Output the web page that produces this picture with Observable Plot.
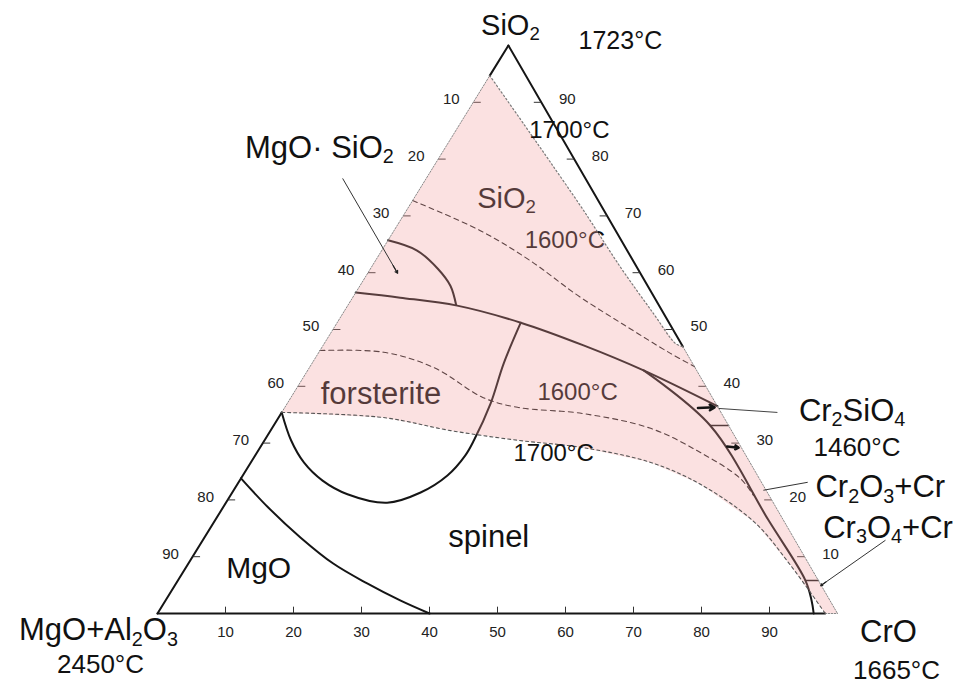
<!DOCTYPE html>
<html>
<head>
<meta charset="utf-8">
<script src="https://cdn.jsdelivr.net/npm/d3@7"></script>
<script src="https://cdn.jsdelivr.net/npm/@observablehq/plot@0.6"></script>
<style>
  html, body { margin: 0; padding: 0; background: #fff; }
  #chart { width: 971px; height: 684px; }
</style>
</head>
<body>
<div id="chart"></div>
<script>
// Phase diagram MgO+Al2O3 – CrO – SiO2.
// Every composition is [CrO wt%, SiO2 wt%]; MgO+Al2O3 makes up the balance.

// 1700 °C liquidus, silica side and the lower (spinel side) branch
const liquidus1700Upper = [[0, 94.7], [9.7, 85.9], [16.4, 79.8], [26.0, 71.0], [36.7, 60.9], [45.7, 52.8], [51.7, 47.5], [53, 47]];
const liquidus1700Lower = [[0, 35.4], [15.4, 34.5], [26.5, 32.2], [37.2, 30.5], [47.5, 29.2], [58.8, 26.6], [68.2, 22.7], [79.6, 16.0], [88.7, 8.5], [98.2, 0]];

// 1600 °C isotherms
const isotherm1600Upper = [[0, 72.7], [12.7, 67.4], [22.8, 62.1], [32.9, 56.0], [42.6, 50.7], [51.8, 45.8], [56.5, 43.5]];
const isotherm1600Lower = [[0, 46.3], [9.5, 46.0], [18.3, 43.3], [28.3, 38.0], [34.2, 36.3], [44.4, 35.2], [55.7, 32.6], [65.3, 28.3], [73.4, 23.8], [76.9, 20.8]];

// field boundaries
const silicaBoundary = [[0, 56.5], [7.0, 55.6], [16.1, 54.2], [27.0, 51.2], [38.3, 47.2], [49.4, 42.8], [63.5, 36.5]];
const enstatiteArc = [[0, 65.7], [5.2, 63.9], [9.9, 60.7], [13.3, 57.7], [15.9, 54.3]];
const forsteriteSpinel = [[27.0, 51.2], [28.2, 44.0], [29.9, 37.0], [30.8, 30.5], [30.9, 27.8], [30.1, 24.3], [27.7, 21.3], [23.7, 19.5], [17.1, 21.0], [12.2, 23.4], [7.8, 26.6], [3.9, 30.5], [0, 35.4]];
const chromiteBoundary = [[49.4, 42.8], [64.2, 33.1], [81.4, 16.4], [92.3, 5.8], [95.0, 2.3], [96.5, 0]];
const periclaseBoundary = [[0, 23.8], [6.6, 18.7], [14.1, 13.4], [21.3, 8.8], [28.1, 5.3], [34.5, 2.3], [40, 0]];

// short tie marks between the chromium phases and the CrO–SiO2 side
const tieMarks = [[[64.2, 33.1], [66.9, 33.1]], [[92.3, 5.8], [94.2, 5.8]]];

// side scales (wt%)
const scaleValues = [10, 20, 30, 40, 50, 60, 70, 80, 90];

// vertex names and melting points
const vertexNames = ["MgO+Al₂O₃", "CrO", "SiO₂"];
const vertexMelting = ["2450°C", "1665°C", "1723°C"];

// ---- layout ----
const FONT = '"Liberation Sans", Arial, Helvetica, sans-serif';
const SKEW = 0.516;                         // apex position along the base
const X = ([c, s]) => c + SKEW * s;
const Y = ([c, s]) => s;
const pt = (p) => ({x: X(p), y: Y(p)});
const segs = (lines) => lines.flatMap((pts, i) => pts.map(p => ({id: i, ...pt(p)})));
const vertices = [[0, 0], [100, 0], [0, 100]];

// solid frame outside the liquid region, hairline inside it
const frameSolid = [[[0, 0], [98.2, 0]], [[0, 0], [0, 35.4]], [[0, 94.7], [0, 100]], [[0, 100], [53, 47]]];
const frameFaint = [[[0, 35.4], [0, 94.7]], [[53, 47], [100, 0]], [[98.2, 0], [100, 0]]];

// region liquid at 1700 °C
const liquidRegion = [[0, 35.4], ...liquidus1700Upper, [100, 0], ...liquidus1700Lower.slice().reverse()];

// ticks along each side
const ticks = [
  ...scaleValues.map(m => ({a: [0, 100 - m], b: [1.1, 100 - m], side: "left", v: m})),
  ...scaleValues.map(v => ({a: [100 - v, v], b: [98.9 - v, v], side: "right", v})),
  ...scaleValues.map(v => ({a: [v, 0], b: [v - SKEW * 1.2, 1.2], side: "base", v}))
];

// labels placed at compositions
const shadedLabels = [
  {text: "SiO₂", at: [13.6, 73.1], size: 29},
  {text: "1600°C", at: [26.0, 65.7], size: 24},
  {text: "forsterite", at: [12.9, 38.7], size: 31},
  {text: "1600°C", at: [41.7, 38.9], size: 24}
];
const plainLabels = [
  {text: "1700°C", at: [16.7, 85.0], size: 24},
  {text: "1700°C", at: [43.7, 28.2], size: 24},
  {text: "spinel", at: [41.8, 13.4], size: 31},
  {text: "MgO", at: [10.8, 7.9], size: 30},
  {text: "MgO· SiO₂", at: [-18.5, 82.0], size: 31}
];
const sideLabels = [
  {text: "Cr₂SiO₄", at: [75.9, 35.7], size: 31},
  {text: "1460°C", at: [81.4, 29.2], size: 26},
  {text: "Cr₂O₃+Cr", at: [85.3, 22.2], size: 31},
  {text: "Cr₃O₄+Cr", at: [90.1, 15.1], size: 31}
];

// leader lines from labels to the phases
const leaders = [
  {from: [-12.3, 76.6], to: [4.4, 59.9], dash: "7,3,1.5,3", head: true},
  {from: [72.9, 35.4], to: [63.9, 36.1], dash: null, head: false},
  {from: [83.7, 23.1], to: [77.9, 21.7], dash: "4,3", head: false},
  {from: [100.4, 12.9], to: [95.0, 4.9], dash: "2,2", head: true}
];
// small arrows on the CrO–SiO2 side
const sideArrows = [
  {from: [60.8, 36.2], to: [63.2, 36.3]},
  {from: [68.6, 29.4], to: [70.4, 29.2]}
];

// pixel offsets of the vertex captions: [name dx, dy, size], [melting dx, dy, size]
const vertexCaption = [
  [[-59, 17, 31], [-57, 51, 26]],
  [[51, 19, 31], [59, 57, 26]],
  [[2, -20, 29], [112, -5, 25]]
];

const linkOpts = (extra) => ({
  x1: d => X(d.from ?? d.a), y1: d => Y(d.from ?? d.a),
  x2: d => X(d.to ?? d.b), y2: d => Y(d.to ?? d.b), ...extra
});
const textAt = (extra) => ({x: d => X(d.at), y: d => Y(d.at), text: "text", fontSize: "size", ...extra});
const tickLabel = (side, dx, dy) => Plot.text(ticks.filter(t => t.side === side), {
  x: d => X(d.a), y: d => Y(d.a), text: d => String(d.v), dx, dy, fontSize: 15, fill: "#222"
});
const vertexMarks = vertices.flatMap((v, i) => [vertexNames[i], vertexMelting[i]].map((label, k) => {
  const [dx, dy, size] = vertexCaption[i][k];
  return Plot.text([v], {x: d => X(d), y: d => Y(d), text: () => label, dx, dy, fontSize: size, fill: "#111"});
}));

const chart = Plot.plot({
  width: 971,
  height: 684,
  marginLeft: 157, marginRight: 134, marginTop: 45, marginBottom: 71,
  x: {domain: [0, 100], axis: null},
  y: {domain: [0, 100], axis: null},
  style: {fontFamily: FONT, background: "#fff", color: "#111", overflow: "visible"},
  marks: [
    Plot.line(segs(frameSolid), {x: "x", y: "y", z: "id", stroke: "#151515", strokeWidth: 2}),
    Plot.link(ticks, linkOpts({stroke: "#333", strokeWidth: 1})),
    Plot.line(segs([isotherm1600Upper, isotherm1600Lower]), {x: "x", y: "y", z: "id", stroke: "#222", strokeWidth: 1.1, strokeDasharray: "5,4", curve: "catmull-rom"}),
    Plot.line(segs([silicaBoundary, enstatiteArc, forsteriteSpinel, chromiteBoundary, periclaseBoundary]), {x: "x", y: "y", z: "id", stroke: "#151515", strokeWidth: 2, curve: "catmull-rom"}),
    Plot.line(segs(tieMarks), {x: "x", y: "y", z: "id", stroke: "#151515", strokeWidth: 1.5}),
    Plot.text(shadedLabels, textAt({fill: "#111"})),
    // liquid at 1700 °C, laid over the lines beneath it
    Plot.line(liquidRegion.map(pt), {x: "x", y: "y", fill: "rgb(242,155,155)", fillOpacity: 0.3, stroke: "none"}),
    Plot.line(segs(frameFaint), {x: "x", y: "y", z: "id", stroke: "#8a8a8a", strokeWidth: 1, strokeDasharray: "1.5,1.5"}),
    Plot.line(segs([liquidus1700Upper]), {x: "x", y: "y", z: "id", stroke: "#7a7a7a", strokeWidth: 1.2, strokeDasharray: "1.5,2.5", curve: "catmull-rom"}),
    Plot.line(segs([liquidus1700Lower]), {x: "x", y: "y", z: "id", stroke: "#555", strokeWidth: 1.1, strokeDasharray: "3,3", curve: "catmull-rom"}),
    Plot.link(leaders.filter(d => d.dash), linkOpts({stroke: "#333", strokeWidth: 1, strokeDasharray: d => d.dash})),
    Plot.link(leaders.filter(d => !d.dash), linkOpts({stroke: "#444", strokeWidth: 1})),
    Plot.arrow(leaders.filter(d => d.head), {
      x1: d => X(d.to) - (X(d.to) - X(d.from)) * 0.08, y1: d => Y(d.to) - (Y(d.to) - Y(d.from)) * 0.08,
      x2: d => X(d.to), y2: d => Y(d.to), stroke: "#222", strokeWidth: 1.2, headLength: 8
    }),
    Plot.arrow(sideArrows, linkOpts({stroke: "#151515", strokeWidth: 2.5, headLength: 6})),
    Plot.text(plainLabels, textAt({fill: "#111"})),
    Plot.text(sideLabels, textAt({fill: "#111", textAnchor: "start"})),
    tickLabel("left", -22, -3),
    tickLabel("right", 26, -3),
    tickLabel("base", 0, 19),
    ...vertexMarks
  ]
});

document.getElementById("chart").appendChild(chart);

// render subscript digits as lowered, smaller digits
const SUB = {"₂": "2", "₃": "3", "₄": "4"};
const NS = "http://www.w3.org/2000/svg";
for (const t of chart.querySelectorAll("text")) {
  const s = t.textContent;
  if (t.childElementCount || !/[₂₃₄]/.test(s)) continue;
  const fs = parseFloat(getComputedStyle(t).fontSize) || 16;
  const shift = fs * 0.18;
  t.textContent = "";
  let lowered = false;
  for (const part of s.split(/([₂₃₄])/)) {
    if (!part) continue;
    const ts = document.createElementNS(NS, "tspan");
    if (SUB[part]) {
      ts.textContent = SUB[part];
      ts.setAttribute("font-size", (fs * 0.64).toFixed(1));
      if (!lowered) ts.setAttribute("dy", shift.toFixed(1));
      lowered = true;
    } else {
      ts.textContent = part;
      if (lowered) ts.setAttribute("dy", (-shift).toFixed(1));
      lowered = false;
    }
    t.appendChild(ts);
  }
}
</script>
</body>
</html>
